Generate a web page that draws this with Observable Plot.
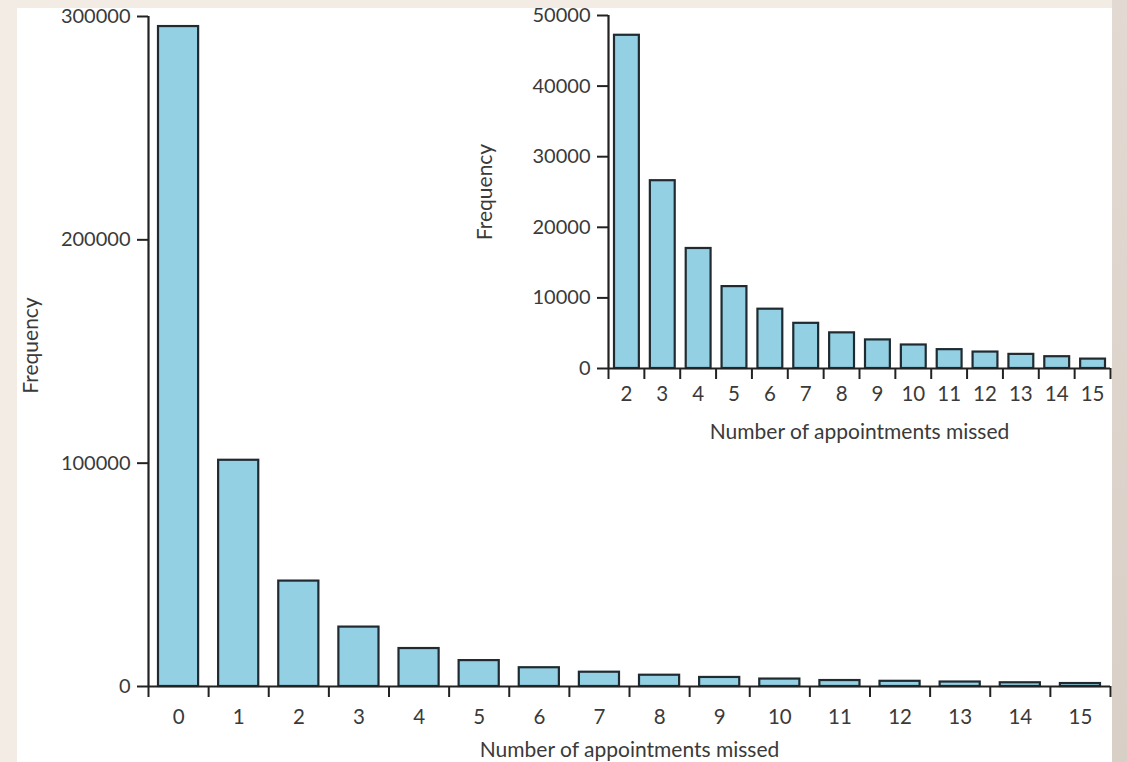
<!DOCTYPE html>
<html><head><meta charset="utf-8">
<script src="https://cdn.jsdelivr.net/npm/d3@7"></script>
<script src="https://cdn.jsdelivr.net/npm/@observablehq/plot@0.6"></script>
<style>
html,body{margin:0;padding:0;background:#f4eee8;}
#wrap{position:relative;width:1127px;height:762px;overflow:hidden;background:#f3ece5;}
#panel{position:absolute;left:17px;top:8px;width:1095px;height:754px;background:#fff;}
#rstrip{position:absolute;left:1112px;top:0;width:15px;height:762px;background:linear-gradient(#e2dad2,#d8cfc7);}
#main,#inset{position:absolute;top:0;}
#main{left:0px;}
#inset{left:460px;}
</style></head><body>
<div id="wrap"><div id="panel"></div><div id="rstrip"></div><div id="main"></div><div id="inset"></div></div>
<script>
// Data
const missed = [0, 1, 2, 3, 4, 5, 6, 7, 8, 9, 10, 11, 12, 13, 14, 15];
const frequency = [295500, 101300, 47200, 26600, 17000, 11600, 8400, 6400, 5050, 4050, 3330, 2670, 2330, 2000, 1670, 1330];
const mainYTicks = [0, 100000, 200000, 300000];
const insetYTicks = [0, 10000, 20000, 30000, 40000, 50000];
const insetStart = 2;
const yTitle = "Frequency";
const xTitle = "Number of appointments missed";

const table = missed.map((k, i) => ({k, v: frequency[i]}));
const insetTable = table.filter(d => d.k >= insetStart);

const FILL = "#93d0e4", EDGE = "#1f2b30", AXIS = "#222", TEXT = "#3a3a3a";
const fmt = d3.format("d");

function panel({data, width, height, margins, yDomain, yTicks, inset, labelPad, xTitleDy, yTitleDx, yTitleDy}) {
  const ks = data.map(d => d.k);
  const lo = d3.min(ks) - 0.5, hi = d3.max(ks) + 0.5;
  const bounds = d3.range(lo, hi + 0.01, 1);
  return Plot.plot({
    width, height, ...margins,
    style: {fontFamily: "Lato, 'Open Sans', sans-serif", fontSize: "20px", color: TEXT, background: "transparent", overflow: "visible"},
    x: {type: "linear", domain: [lo, hi]},
    y: {domain: yDomain},
    marks: [
      Plot.rectY(data, {x1: d => d.k - 0.5, x2: d => d.k + 0.5, y: "v", insetLeft: inset[0], insetRight: inset[1], fill: FILL, stroke: EDGE, strokeWidth: 2.2}),
      Plot.ruleY([0], {stroke: AXIS, strokeWidth: 2.2}),
      Plot.ruleX([lo], {y1: yDomain[0], y2: yDomain[1], stroke: AXIS, strokeWidth: 2.2}),
      Plot.axisY({ticks: yTicks, tickFormat: fmt, tickSize: 11, tickPadding: 7, stroke: AXIS, strokeWidth: 2, fill: TEXT, label: null}),
      Plot.axisX({ticks: bounds, tickFormat: () => "", tickSize: 11, stroke: AXIS, strokeWidth: 2, label: null}),
      Plot.axisX({ticks: ks, tickFormat: fmt, tickSize: 0, tickPadding: labelPad, fill: TEXT, label: null, fontSize: 20.5}),
      Plot.text([xTitle], {frameAnchor: "bottom", textAnchor: "middle", lineAnchor: "middle", dy: xTitleDy, fill: TEXT, fontSize: 21}),
      Plot.text([yTitle], {frameAnchor: "left", textAnchor: "middle", lineAnchor: "middle", rotate: -90, dx: yTitleDx, dy: yTitleDy, fill: TEXT, fontSize: 21})
    ]
  });
}

document.getElementById("main").append(panel({
  data: table, width: 1127, height: 762,
  margins: {marginLeft: 148, marginRight: 17, marginTop: 16, marginBottom: 76},
  yDomain: [0, 300000], yTicks: mainYTicks, inset: [10, 10], labelPad: 23,
  xTitleDy: 64, yTitleDx: -117, yTitleDy: -6
}));

document.getElementById("inset").append(panel({
  data: insetTable, width: 667, height: 460,
  margins: {marginLeft: 148, marginRight: 17, marginTop: 15, marginBottom: 92},
  yDomain: [0, 50000], yTicks: insetYTicks, inset: [6, 5], labelPad: 18,
  xTitleDy: 64, yTitleDx: -123, yTitleDy: 0
}));
</script>
</body></html>
